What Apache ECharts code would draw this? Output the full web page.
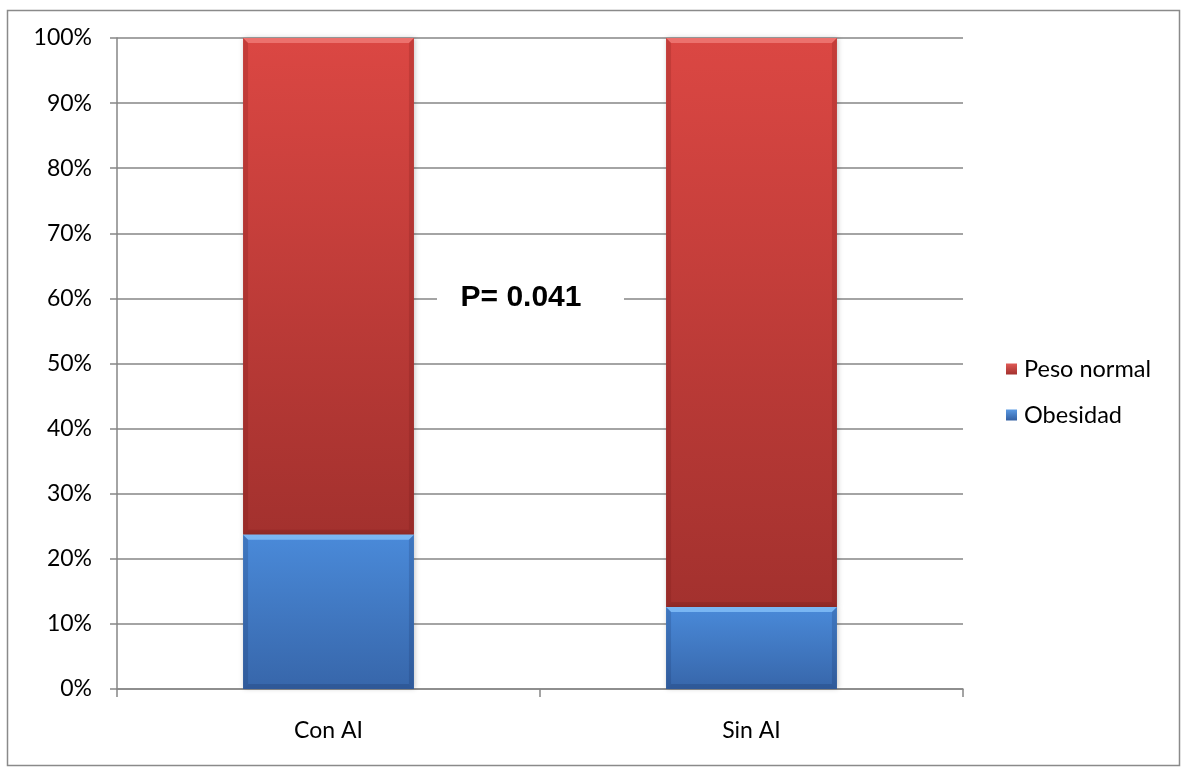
<!DOCTYPE html>
<html>
<head>
<meta charset="utf-8">
<script src="https://cdn.jsdelivr.net/npm/echarts@6/dist/echarts.min.js"></script>
<style>
  html, body { margin: 0; padding: 0; background: #ffffff; }
  #chart { width: 1181px; height: 769px; }
</style>
</head>
<body>
<div id="chart"></div>
<script>
// Categories and shares (%) per group
const categories = ['Con AI', 'Sin AI'];
const obesidad = [23.7, 12.6];
const pesoNormal = [76.3, 87.4];
const seriesNames = ['Peso normal', 'Obesidad'];
const yTicks = [0, 10, 20, 30, 40, 50, 60, 70, 80, 90, 100];
const pLabel = 'P= 0.041';

const AXIS_GREY = '#868686';
const LABEL_FONT = 'Lato, "Open Sans", sans-serif';

// Stacked ranges [categoryIndex, from, to] built from the values
const obesidadRanges = categories.map((c, i) => [i, 0, obesidad[i]]);
const pesoRanges = categories.map((c, i) => [i, obesidad[i], obesidad[i] + pesoNormal[i]]);

function vgrad(top, bottom) {
  return new echarts.graphic.LinearGradient(0, 0, 0, 1, [
    { offset: 0, color: top },
    { offset: 1, color: bottom }
  ]);
}

const palette = {
  'Peso normal': { top: '#db4743', bottom: '#a3312e', hi: '#f07c78', side: 'rgba(110,20,18,0.2)', low: 'rgba(90,15,15,0.18)' },
  'Obesidad': { top: '#4a8ad9', bottom: '#3766aa', hi: '#86c2fa', side: 'rgba(20,45,95,0.2)', low: 'rgba(15,35,80,0.2)' }
};

// Bevelled bar drawn from the axis scales
function bevelBar(name) {
  const c = palette[name];
  return function (params, api) {
    const cat = api.value(0);
    const from = api.coord([cat, api.value(1)]);
    const to = api.coord([cat, api.value(2)]);
    const w = api.size([1, 0])[0] * 0.404;
    const x = from[0] - w / 2;
    const y = to[1];
    const h = from[1] - to[1];
    const b = Math.min(5, h / 3);
    return {
      type: 'group',
      children: [
        { type: 'rect', shape: { x: x, y: y, width: w, height: h },
          style: { fill: vgrad(c.top, c.bottom), shadowBlur: 5, shadowColor: 'rgba(0,0,0,0.22)', shadowOffsetX: 1, shadowOffsetY: 0 } },
        { type: 'polygon', shape: { points: [[x, y], [x + w, y], [x + w - b, y + b], [x + b, y + b]] },
          style: { fill: c.hi, opacity: 0.8 } },
        { type: 'polygon', shape: { points: [[x, y], [x + b, y + b], [x + b, y + h - b], [x, y + h]] },
          style: { fill: c.side } },
        { type: 'polygon', shape: { points: [[x + w, y], [x + w, y + h], [x + w - b, y + h - b], [x + w - b, y + b]] },
          style: { fill: c.side } },
        { type: 'polygon', shape: { points: [[x, y + h], [x + b, y + h - b], [x + w - b, y + h - b], [x + w, y + h]] },
          style: { fill: c.low } }
      ]
    };
  };
}

const chart = echarts.init(document.getElementById('chart'), null, { renderer: 'canvas' });

chart.setOption({
  animation: false,
  backgroundColor: '#ffffff',
  grid: { left: 117, right: 218, top: 38, bottom: 80, containLabel: false },
  legend: {
    orient: 'vertical',
    left: 1001,
    top: 352,
    itemWidth: 11,
    itemHeight: 11,
    itemGap: 22,
    icon: 'rect',
    data: seriesNames,
    textStyle: { fontFamily: LABEL_FONT, fontSize: 23.5, color: '#000000', padding: [0, 0, 0, 2] }
  },
  xAxis: {
    type: 'category',
    data: categories,
    boundaryGap: true,
    axisLine: { lineStyle: { color: AXIS_GREY, width: 1.5 } },
    axisTick: { show: true, length: 8, lineStyle: { color: AXIS_GREY, width: 1.5 } },
    axisLabel: { margin: 30, fontFamily: LABEL_FONT, fontSize: 23, color: '#000000' },
    splitLine: { show: false }
  },
  yAxis: {
    type: 'value',
    min: yTicks[0],
    max: yTicks[yTicks.length - 1],
    interval: yTicks[1] - yTicks[0],
    axisLine: { show: true, lineStyle: { color: AXIS_GREY, width: 1.5 } },
    axisTick: { show: true, length: 7, lineStyle: { color: AXIS_GREY, width: 1.5 } },
    axisLabel: { margin: 25, formatter: '{value}%', fontFamily: LABEL_FONT, fontSize: 23, color: '#000000' },
    splitLine: { show: true, lineStyle: { color: AXIS_GREY, width: 1.5 } }
  },
  series: [
    {
      name: 'Peso normal',
      type: 'custom',
      renderItem: bevelBar('Peso normal'),
      itemStyle: { color: vgrad('#e05a56', '#a2302d') },
      encode: { x: 0, y: [1, 2] },
      data: pesoRanges,
      z: 3
    },
    {
      name: 'Obesidad',
      type: 'custom',
      renderItem: bevelBar('Obesidad'),
      itemStyle: { color: vgrad('#5b9ae3', '#3360a3') },
      encode: { x: 0, y: [1, 2] },
      data: obesidadRanges,
      z: 3
    }
  ],
  graphic: [
    { type: 'rect', z: 20, shape: { x: 7.5, y: 10.5, width: 1172, height: 755 },
      style: { fill: 'none', stroke: '#8a8a8a', lineWidth: 1.5 } },
    { type: 'rect', z: 20, shape: { x: 437, y: 284, width: 187, height: 28 },
      style: { fill: '#ffffff' } },
    { type: 'text', z: 21, x: 521, y: 298,
      style: { text: pLabel, fill: '#000000', font: 'bold 30px "Liberation Sans", Arial, sans-serif',
        textAlign: 'center', textVerticalAlign: 'middle' } }
  ]
});
</script>
</body>
</html>
